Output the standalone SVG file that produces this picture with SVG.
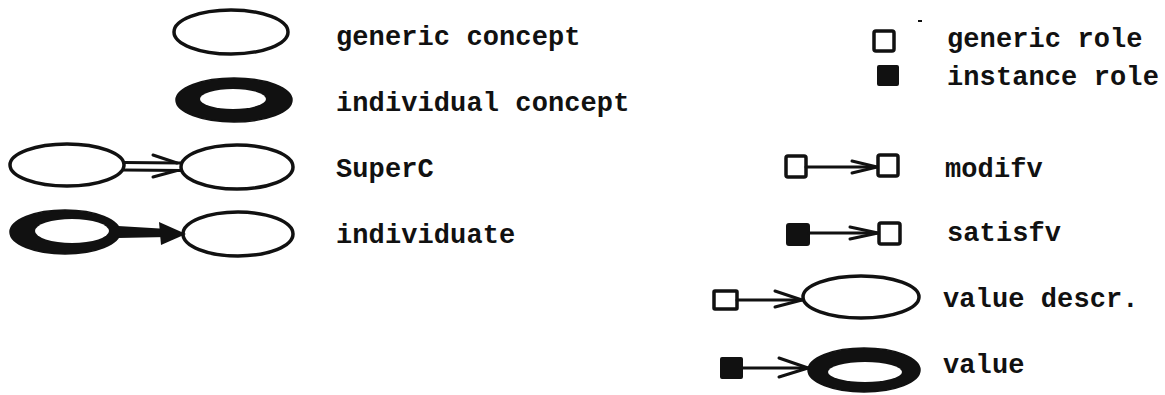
<svg xmlns="http://www.w3.org/2000/svg" width="1165" height="395" viewBox="0 0 1165 395">
<style>
  .lbl { font-family: "Liberation Mono", "DejaVu Sans Mono", monospace; font-size: 27px; font-weight: bold; fill: #111; letter-spacing: 0.1px; }
  .gc { fill: #fff; stroke: #111; stroke-width: 3.5; }
  .ring { fill: #111; stroke: #111; stroke-width: 1.5; }
  .hole { fill: #fff; stroke: none; }
  .gr { fill: #fff; stroke: #111; stroke-width: 3.5; }
  .ir { fill: #111; stroke: #111; stroke-width: 2; }
  .ln { stroke: #111; stroke-width: 3; fill: none; stroke-linecap: round; stroke-linejoin: round; }
</style>

<g id="legend-generic-concept">
  <ellipse class="gc" cx="231" cy="32" rx="57" ry="22"/>
  <text class="lbl" x="336" y="45">generic concept</text>
</g>
<g id="legend-individual-concept">
  <ellipse class="ring" cx="234" cy="100" rx="58" ry="22"/>
  <ellipse class="hole" cx="233" cy="99" rx="33" ry="10"/>
  <text class="lbl" x="336" y="111">individual concept</text>
</g>
<g id="legend-superc">
  <ellipse class="gc" cx="67" cy="165" rx="57" ry="21"/>
  <ellipse class="gc" cx="237" cy="167" rx="56" ry="22"/>
  <text class="lbl" x="336" y="177">SuperC</text>
</g>
<g id="legend-individuate">
  <ellipse class="ring" cx="65" cy="232" rx="55" ry="22"/>
  <ellipse class="hole" cx="72" cy="231" rx="37" ry="12"/>
  <ellipse class="gc" cx="238" cy="234" rx="55" ry="22"/>
  <text class="lbl" x="336" y="243">individuate</text>
</g>

<g id="legend-generic-role">
  <rect class="gr" x="874" y="31" width="20" height="20" rx="2"/>
  <rect x="918" y="20" width="4" height="2" fill="#111"/>
  <text class="lbl" x="947" y="47">generic role</text>
</g>
<g id="legend-instance-role">
  <rect class="ir" x="878" y="66" width="20" height="19" rx="1"/>
  <text class="lbl" x="947" y="85">instance role</text>
</g>
<g id="legend-modify">
  <rect class="gr" x="786" y="156" width="20" height="21" rx="2"/>
  <rect class="gr" x="878" y="155" width="20" height="21" rx="2"/>
  <text class="lbl" x="945" y="177">modifv</text>
</g>
<g id="legend-satisfy">
  <rect class="ir" x="787" y="224" width="22" height="21" rx="2"/>
  <rect class="gr" x="879" y="223" width="21" height="21" rx="2"/>
  <text class="lbl" x="947" y="241">satisfv</text>
</g>
<g id="legend-value-descr">
  <rect class="gr" x="714" y="291" width="23" height="18" rx="1"/>
  <ellipse class="gc" cx="861" cy="297" rx="58" ry="21"/>
  <text class="lbl" x="943" y="307">value descr.</text>
</g>
<g id="legend-value">
  <rect class="ir" x="721" y="358" width="21" height="20" rx="1"/>
  <ellipse class="ring" cx="864" cy="370" rx="56" ry="22"/>
  <ellipse class="hole" cx="865" cy="372" rx="37" ry="10"/>
  <text class="lbl" x="943" y="373">value</text>
</g>

<g id="connectors">
  <!-- SuperC double line -->
  <line class="ln" x1="124" y1="162.5" x2="181" y2="163" stroke-width="2.8"/>
  <line class="ln" x1="124" y1="170" x2="181" y2="170.5" stroke-width="2.8"/>
  <path class="ln" d="M153,155 L177,163 M153,177 L177,170.5" stroke-width="3.8"/>
  <!-- individuate thick arrow -->
  <path d="M118,226 L168,229 L168,237 L118,238 Z" fill="#111"/>
  <path d="M159,222 L186,234 L161,245 Z" fill="#111"/>
  <!-- modify -->
  <line class="ln" x1="806" y1="167" x2="876" y2="167"/>
  <path class="ln" d="M852,161 L877,167 L852,173" stroke-width="3.5"/>
  <!-- satisfy -->
  <line class="ln" x1="809" y1="233" x2="877" y2="233"/>
  <path class="ln" d="M850,227 L878,233 L850,239" stroke-width="3.5"/>
  <!-- value descr -->
  <line class="ln" x1="737" y1="300" x2="802" y2="300"/>
  <path class="ln" d="M775,291 L802,300 L775,307" stroke-width="3.5"/>
  <!-- value -->
  <line class="ln" x1="742" y1="368" x2="808" y2="368"/>
  <path class="ln" d="M779,358 L808,368 L779,377" stroke-width="3.5"/>
</g>
</svg>
